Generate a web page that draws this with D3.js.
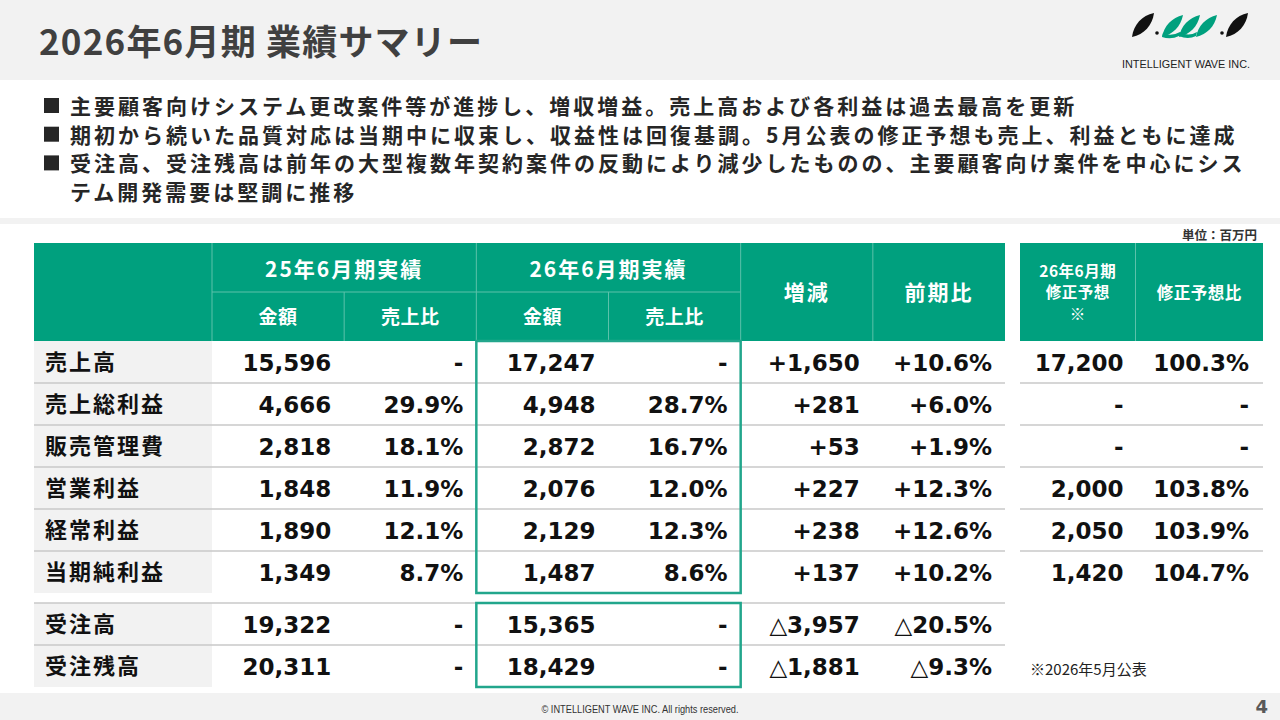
<!DOCTYPE html>
<html>
<head>
<meta charset="utf-8">
<script src="https://cdn.jsdelivr.net/npm/d3@7"></script>
<style>
  body { margin: 0; background: #f2f2f2; }
  svg { display: block; }
</style>
</head>
<body>
<div id="chart"></div>
<script>
// data
var bullets = [
    "主要顧客向けシステム更改案件等が進捗し、増収増益。売上高および各利益は過去最高を更新",
    "期初から続いた品質対応は当期中に収束し、収益性は回復基調。5月公表の修正予想も売上、利益ともに達成",
    "受注高、受注残高は前年の大型複数年契約案件の反動により減少したものの、主要顧客向け案件を中心にシス\nテム開発需要は堅調に推移"
];
var rowLabels = ["売上高", "売上総利益", "販売管理費", "営業利益", "経常利益", "当期純利益", "受注高", "受注残高"];
var prevAmount = ["15,596", "4,666", "2,818", "1,848", "1,890", "1,349", "19,322", "20,311"];
var prevRatio = ["-", "29.9%", "18.1%", "11.9%", "12.1%", "8.7%", "-", "-"];
var curAmount = ["17,247", "4,948", "2,872", "2,076", "2,129", "1,487", "15,365", "18,429"];
var curRatio = ["-", "28.7%", "16.7%", "12.0%", "12.3%", "8.6%", "-", "-"];
var diff = ["+1,650", "+281", "+53", "+227", "+238", "+137", "△3,957", "△1,881"];
var yoy = ["+10.6%", "+6.0%", "+1.9%", "+12.3%", "+12.6%", "+10.2%", "△20.5%", "△9.3%"];
var forecast = ["17,200", "-", "-", "2,000", "2,050", "1,420"];
var forecastRatio = ["100.3%", "-", "-", "103.8%", "103.9%", "104.7%"];
var mainCols = ["prevAmount", "prevRatio", "curAmount", "curRatio", "diff", "yoy"];
var sideCols = ["forecast", "forecastRatio"];

var green = "#00a07e";
var teal = "#22a68c";
var jp = "'Noto Sans CJK JP', 'Noto Sans', sans-serif";
var num = "'DejaVu Sans', 'Noto Sans', sans-serif";

var svg = d3.select("#chart").append("svg")
    .attr("width", 1280)
    .attr("height", 720);

// background panels
svg.append("rect").attr("width", 1280).attr("height", 720).attr("fill", "#f2f2f2");
svg.append("rect").attr("x", 0).attr("y", 80).attr("width", 1280).attr("height", 138).attr("fill", "#fff");
svg.append("rect").attr("x", 0).attr("y", 224).attr("width", 1280).attr("height", 469).attr("fill", "#fff");

// title
svg.append("text")
    .attr("x", 39).attr("y", 55)
    .attr("font-family", jp).attr("font-weight", "bold").attr("font-size", 35)
    .attr("letter-spacing", 1.2)
    .attr("fill", "#404040")
    .text("2026年6月期 業績サマリー");

// logo
var logo = svg.append("g");
function leaf(bx, by, tx, ty, w) {
    var dx = tx - bx, dy = ty - by;
    var len = Math.sqrt(dx * dx + dy * dy);
    var nx = -dy / len * w, ny = dx / len * w;
    var p1 = [bx + dx / 3, by + dy / 3], p2 = [bx + 2 * dx / 3, by + 2 * dy / 3];
    return "M" + bx + "," + by +
        " C" + (p1[0] - nx - 1) + "," + (p1[1] - ny) + " " + (p2[0] - nx) + "," + (p2[1] - ny - 1) + " " + tx + "," + ty +
        " C" + (p2[0] + nx + 1) + "," + (p2[1] + ny) + " " + (p1[0] + nx) + "," + (p1[1] + ny + 1) + " " + bx + "," + by + "Z";
}
logo.append("path").attr("d", leaf(1132, 37, 1154, 13, 6.5)).attr("fill", "#111");
logo.append("path").attr("d", leaf(1226, 37, 1248, 13, 6.5)).attr("fill", "#111");
logo.selectAll("circle").data([1157, 1222]).enter().append("circle")
    .attr("cx", function(d) { return d; }).attr("cy", 33).attr("r", 1.8).attr("fill", "#111");
logo.selectAll("path.w").data([1162, 1179, 1196]).enter().append("path")
    .attr("class", "w")
    .attr("d", function(d) { return leaf(d, 37, d + 21, 15, 5.5); })
    .attr("fill", green);
logo.append("path")
    .attr("d", "M1162,37 Q1171,40 1179,36 Q1188,40 1196,36 L1197,32 Q1188,37 1180,32 Q1171,37 1163,33Z")
    .attr("fill", green);
logo.append("text")
    .attr("x", 1122).attr("y", 68)
    .attr("font-family", "'Liberation Sans', sans-serif").attr("font-size", 11)
    .attr("textLength", 128).attr("lengthAdjust", "spacingAndGlyphs")
    .attr("fill", "#222")
    .text("INTELLIGENT WAVE INC.");

// bullets
var bulletLines = [];
bullets.forEach(function(b) {
    b.split("\n").forEach(function(line, j) {
        bulletLines.push({ text: line, first: j === 0 });
    });
});
var bl = svg.append("g");
bl.selectAll("text.line")
    .data(bulletLines)
    .enter()
    .append("text")
    .attr("class", "line")
    .attr("x", 70)
    .attr("y", function(d, i) { return 114 + i * 28.7; })
    .attr("font-family", jp).attr("font-weight", "bold").attr("font-size", 21)
    .attr("letter-spacing", 3)
    .attr("fill", "#262626")
    .text(function(d) { return d.text; });
bl.selectAll("rect.sq")
    .data(bulletLines.filter(function(d) { return d.first; }))
    .enter()
    .append("rect")
    .attr("class", "sq")
    .attr("x", 44)
    .attr("y", function(d) { return 98 + bulletLines.indexOf(d) * 28.7; })
    .attr("width", 15).attr("height", 15)
    .attr("fill", "#262626");

// unit
svg.append("text")
    .attr("x", 1257).attr("y", 240)
    .attr("text-anchor", "end")
    .attr("font-family", jp).attr("font-weight", "bold").attr("font-size", 12.5)
    .attr("fill", "#333")
    .text("単位：百万円");

// scales
var x = d3.scaleBand().domain(mainCols).range([212, 1005]);
var xs = d3.scaleBand().domain(sideCols).range([1020, 1263]);
var yTop = d3.scaleBand().domain(rowLabels.slice(0, 6)).range([341, 593]);
var yBot = d3.scaleBand().domain(rowLabels.slice(6)).range([603, 687]);
function rowY(label) {
    return yTop.domain().indexOf(label) >= 0 ? yTop(label) : yBot(label);
}
var rh = yTop.bandwidth();

// header
var head = svg.append("g");
head.append("rect").attr("x", 34).attr("y", 243).attr("width", 1005 - 34).attr("height", 98).attr("fill", green);
head.append("rect").attr("x", 1020).attr("y", 243).attr("width", 1263 - 1020).attr("height", 98).attr("fill", green);

var hl = "#5cc1aa";
var vFull = [212, x("curAmount"), x("diff"), x("yoy")];
head.selectAll("line.vf").data(vFull).enter().append("line")
    .attr("x1", function(d) { return d; }).attr("x2", function(d) { return d; })
    .attr("y1", 243).attr("y2", 341).attr("stroke", hl).attr("stroke-width", 1);
var vHalf = [x("prevRatio"), x("curRatio")];
head.selectAll("line.vh").data(vHalf).enter().append("line")
    .attr("x1", function(d) { return d; }).attr("x2", function(d) { return d; })
    .attr("y1", 292).attr("y2", 341).attr("stroke", hl).attr("stroke-width", 1);
head.append("line").attr("x1", 212).attr("x2", x("diff")).attr("y1", 292).attr("y2", 292)
    .attr("stroke", hl).attr("stroke-width", 1);
var sideSplit = xs("forecastRatio") - 6;
head.append("line").attr("x1", sideSplit).attr("x2", sideSplit)
    .attr("y1", 243).attr("y2", 341).attr("stroke", hl).attr("stroke-width", 1);

var fcx = (1020 + sideSplit) / 2;
var headTexts = [
    { t: "25年6月期実績", cx: x("prevRatio"), y: 277, s: 21 },
    { t: "26年6月期実績", cx: x("curRatio"), y: 277, s: 21 },
    { t: "金額", cx: x("prevAmount") + x.bandwidth() / 2, y: 324, s: 19 },
    { t: "売上比", cx: x("prevRatio") + x.bandwidth() / 2, y: 324, s: 19 },
    { t: "金額", cx: x("curAmount") + x.bandwidth() / 2, y: 324, s: 19 },
    { t: "売上比", cx: x("curRatio") + x.bandwidth() / 2, y: 324, s: 19 },
    { t: "増減", cx: x("diff") + x.bandwidth() / 2, y: 300, s: 21 },
    { t: "前期比", cx: x("yoy") + x.bandwidth() / 2, y: 300, s: 21 },
    { t: "26年6月期", cx: fcx, y: 277, s: 15.5 },
    { t: "修正予想", cx: fcx, y: 298, s: 15.5 },
    { t: "※", cx: fcx, y: 320, s: 15.5 },
    { t: "修正予想比", cx: (sideSplit + 1263) / 2, y: 299, s: 16.5 }
];
head.selectAll("text")
    .data(headTexts)
    .enter()
    .append("text")
    .attr("x", function(d) { return d.cx; })
    .attr("y", function(d) { return d.y; })
    .attr("text-anchor", "middle")
    .attr("font-family", jp).attr("font-weight", "bold")
    .attr("font-size", function(d) { return d.s; })
    .attr("letter-spacing", function(d) { return d.s > 20 ? 2 : 0.5; })
    .attr("fill", "#fff")
    .text(function(d) { return d.t; });

// body
var body = svg.append("g");
body.selectAll("rect.lab")
    .data(rowLabels)
    .enter()
    .append("rect")
    .attr("class", "lab")
    .attr("x", 34).attr("width", 212 - 34)
    .attr("y", function(d) { return rowY(d); })
    .attr("height", rh)
    .attr("fill", "#f2f2f2");

// row separator lines
var sepMain = rowLabels.slice(1, 6).concat(rowLabels.slice(6));
body.selectAll("line.sep")
    .data(sepMain)
    .enter()
    .append("line")
    .attr("class", "sep")
    .attr("x1", 34).attr("x2", 1005)
    .attr("y1", function(d) { return rowY(d); })
    .attr("y2", function(d) { return rowY(d); })
    .attr("stroke", "#c9c9c9").attr("stroke-width", 1.5);
body.selectAll("line.sepS")
    .data(rowLabels.slice(1, 6))
    .enter()
    .append("line")
    .attr("class", "sepS")
    .attr("x1", 1020).attr("x2", 1263)
    .attr("y1", function(d) { return rowY(d); })
    .attr("y2", function(d) { return rowY(d); })
    .attr("stroke", "#c9c9c9").attr("stroke-width", 1.5);

body.selectAll("text.lab")
    .data(rowLabels)
    .enter()
    .append("text")
    .attr("class", "lab")
    .attr("x", 45)
    .attr("y", function(d) { return rowY(d) + rh / 2 + 8; })
    .attr("font-family", jp).attr("font-weight", "bold").attr("font-size", 22)
    .attr("letter-spacing", 2)
    .attr("fill", "#111")
    .text(function(d) { return d; });

var colData = {
    prevAmount: prevAmount, prevRatio: prevRatio, curAmount: curAmount, curRatio: curRatio,
    diff: diff, yoy: yoy, forecast: forecast, forecastRatio: forecastRatio
};
var cells = [];
mainCols.forEach(function(c) {
    colData[c].forEach(function(v, i) {
        cells.push({ v: v, x: x(c) + x.bandwidth() - 13, row: rowLabels[i] });
    });
});
sideCols.forEach(function(c, k) {
    colData[c].forEach(function(v, i) {
        cells.push({ v: v, x: k === 0 ? sideSplit - 12 : 1249, row: rowLabels[i] });
    });
});
body.selectAll("text.val")
    .data(cells)
    .enter()
    .append("text")
    .attr("class", "val")
    .attr("x", function(d) { return d.x; })
    .attr("y", function(d) { return rowY(d.row) + rh / 2 + 8.5; })
    .attr("text-anchor", "end")
    .attr("font-family", num).attr("font-weight", "bold").attr("font-size", 23)
    .attr("fill", "#111")
    .text(function(d) { return d.v; });

// highlight boxes around current year
body.selectAll("rect.box")
    .data([yTop, yBot])
    .enter()
    .append("rect")
    .attr("class", "box")
    .attr("x", x("curAmount"))
    .attr("width", x.bandwidth() * 2)
    .attr("y", function(d) { return d.range()[0]; })
    .attr("height", function(d) { return d.range()[1] - d.range()[0]; })
    .attr("fill", "none")
    .attr("stroke", teal).attr("stroke-width", 2.5);

// notes
svg.append("text")
    .attr("x", 1030).attr("y", 675)
    .attr("font-family", jp).attr("font-size", 15)
    .attr("fill", "#222")
    .text("※2026年5月公表");

svg.append("text")
    .attr("x", 640).attr("y", 713)
    .attr("text-anchor", "middle")
    .attr("font-family", "'Liberation Sans Narrow', 'Liberation Sans', sans-serif").attr("font-size", 10)
    .attr("textLength", 197).attr("lengthAdjust", "spacingAndGlyphs")
    .attr("fill", "#333")
    .text("© INTELLIGENT WAVE INC. All rights reserved.");
svg.append("text")
    .attr("x", 1268).attr("y", 713)
    .attr("text-anchor", "end")
    .attr("font-family", num).attr("font-weight", "bold").attr("font-size", 18)
    .attr("fill", "#595959")
    .text("4");
</script>
</body>
</html>
